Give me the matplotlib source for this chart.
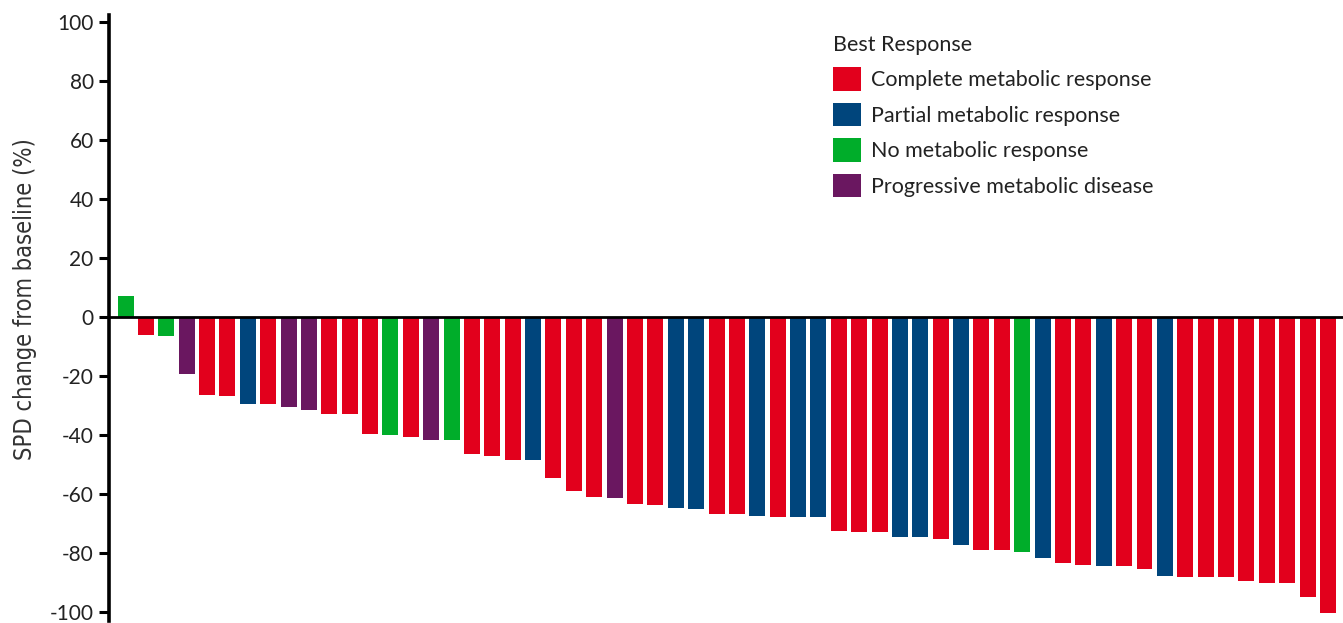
import matplotlib
matplotlib.use("Agg")
import matplotlib.pyplot as plt
from matplotlib.patches import Patch
from matplotlib import font_manager

# best response per patient, sorted as in the waterfall
responses = ["No", "Complete", "No", "Progressive", "Complete", "Complete", "Partial", "Complete",
             "Progressive", "Progressive", "Complete", "Complete", "Complete", "No", "Complete",
             "Progressive", "No", "Complete", "Complete", "Complete", "Partial", "Complete",
             "Complete", "Complete", "Progressive", "Complete", "Complete", "Partial", "Partial",
             "Complete", "Complete", "Partial", "Complete", "Partial", "Partial", "Complete",
             "Complete", "Complete", "Partial", "Partial", "Complete", "Partial", "Complete",
             "Complete", "No", "Partial", "Complete", "Complete", "Partial", "Complete",
             "Complete", "Partial", "Complete", "Complete", "Complete", "Complete", "Complete",
             "Complete", "Complete", "Complete"]
spd_change = [7.0, -6.1, -6.5, -19.3, -26.4, -26.9, -29.3, -29.3, -30.5, -31.5,
              -32.7, -32.7, -39.7, -40.0, -40.5, -41.7, -41.8, -46.5, -47.1, -48.4,
              -48.4, -54.6, -59.1, -61.1, -61.4, -63.3, -63.7, -64.7, -65.2, -66.6,
              -66.9, -67.3, -67.6, -67.9, -67.9, -72.5, -73.0, -73.0, -74.4, -74.7,
              -75.1, -77.3, -78.9, -78.9, -79.7, -81.6, -83.2, -83.9, -84.2, -84.5,
              -85.4, -87.7, -88.0, -88.0, -88.0, -89.4, -90.0, -90.0, -94.8, -100.2]

categories = ["Complete", "Partial", "No", "Progressive"]
legend_labels = ["Complete metabolic response", "Partial metabolic response",
                 "No metabolic response", "Progressive metabolic disease"]
colors = {"Complete": "#e2001c", "Partial": "#00457c", "No": "#00ad2a", "Progressive": "#6a1760"}
yticks = list(range(-100, 101, 20))

# look for a condensed sans for the axis label (the original uses one)
label_font = None
for f in font_manager.fontManager.ttflist:
    name = f.fname.lower()
    if ("condensed" in name or "narrow" in name) and "mono" not in name and "serif" not in name \
            and "bold" not in name and "oblique" not in name and "italic" not in name:
        label_font = font_manager.FontProperties(fname=f.fname, size=17)
        break
if label_font is None:
    label_font = font_manager.FontProperties(family="Roboto", weight="light", size=15)

plt.rcParams["font.family"] = ["Lato", "DejaVu Sans"]

W, H = 1343, 623
fig = plt.figure(figsize=(W / 100, H / 100), dpi=100)
ax = fig.add_axes([109 / W, 1 - 621 / H, 1 - 109 / W, (621 - 14.6) / H])

x = list(range(len(spd_change)))
ax.bar(x, spd_change, width=0.785, color=[colors[r] for r in responses], zorder=2)
ax.axhline(0, color="black", lw=2.0, zorder=3)

ax.set_xlim(-0.81, 59.74)
ax.set_ylim(-103, 102.5)
ax.set_yticks(yticks)
ax.set_yticklabels([str(t) for t in yticks], fontsize=15, color="#222222")
ax.tick_params(axis="y", length=7, width=2.2, pad=4, direction="out")
ax.set_xticks([])
for s in ["top", "right", "bottom"]:
    ax.spines[s].set_visible(False)
ax.spines["left"].set_linewidth(2.6)

ax.set_ylabel("SPD change from baseline (%)", fontproperties=label_font, color="#333333")
ax.yaxis.set_label_coords(-(109 - 37) / (W - 109), (623 - 299 - 2) / (621 - 14.6))

handles = [Patch(facecolor=colors[c], edgecolor="none") for c in categories]
leg = fig.legend(handles, legend_labels, title="Best Response", loc="upper left",
                 bbox_to_anchor=(833 / W, 1 - 35 / H), frameon=False, fontsize=15.5,
                 title_fontsize=15.5, handlelength=1.3, handleheight=1.3, labelspacing=0.56,
                 handletextpad=0.45, borderpad=0, borderaxespad=0, alignment="left")
for t in leg.get_texts():
    t.set_color("#222222")
leg.get_title().set_color("#222222")

fig.savefig("out.png", dpi=100)
